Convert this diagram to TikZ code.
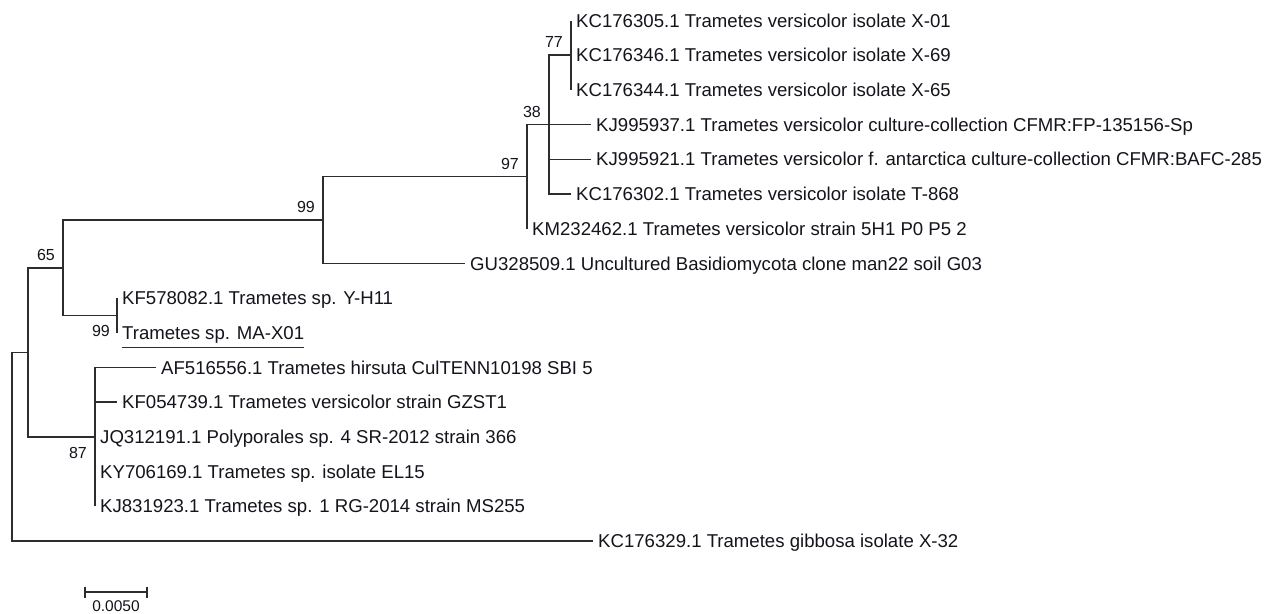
\documentclass[tikz,border=0pt]{standalone}
\usepackage{fontspec}
\setmainfont{Liberation Sans}
\definecolor{linec}{RGB}{45,45,45}
\definecolor{textc}{RGB}{20,20,28}
\begin{document}
\begin{tikzpicture}[x=1pt,y=-1pt,
  br/.style={draw=linec, line width=1.6pt},
  leaf/.style={anchor=west, inner xsep=5pt, inner ysep=0pt, text height=13.3pt, text depth=0pt, font=\fontsize{18.6}{22}\selectfont, text=textc},
  boot/.style={anchor=east, inner sep=0pt, text height=11.4pt, text depth=0pt, font=\fontsize{16}{19}\selectfont, text=textc},
]
\useasboundingbox[fill=white] (0,0) rectangle (1281,613);

% internal nodes
\coordinate (root) at (12,446.65);
\coordinate (nA) at (28,352.3);
\coordinate (n65) at (63,267.7);
\coordinate (n99a) at (323,220);
\coordinate (n97) at (527,176.65);
\coordinate (n38) at (549,124.6);
\coordinate (n77) at (571,55.2);
\coordinate (n99b) at (117,315.45);
\coordinate (n87) at (95,436.9);

% leaves
\node[leaf] (l1) at (571,20.5) {KC176305.1 Trametes versicolor isolate X-01};
\node[leaf] (l2) at (571,55.2) {KC176346.1 Trametes versicolor isolate X-69};
\node[leaf] (l3) at (571,89.9) {KC176344.1 Trametes versicolor isolate X-65};
\node[leaf] (l4) at (591,124.6) {KJ995937.1 Trametes versicolor culture-collection CFMR:FP-135156-Sp};
\node[leaf] (l5) at (591,159.3) {KJ995921.1 Trametes versicolor f. antarctica culture-collection CFMR:BAFC-285};
\node[leaf] (l6) at (571,194.0) {KC176302.1 Trametes versicolor isolate T-868};
\node[leaf] (l7) at (527,228.7) {KM232462.1 Trametes versicolor strain 5H1 P0 P5 2};
\node[leaf] (l8) at (465,263.4) {GU328509.1 Uncultured Basidiomycota clone man22 soil G03};
\node[leaf] (l9) at (117,298.1) {KF578082.1 Trametes sp. Y-H11};
\node[leaf] (l10) at (117,332.8) {Trametes sp. MA-X01};
\node[leaf] (l11) at (156,367.5) {AF516556.1 Trametes hirsuta CulTENN10198 SBI 5};
\node[leaf] (l12) at (117,402.2) {KF054739.1 Trametes versicolor strain GZST1};
\node[leaf] (l13) at (95,436.9) {JQ312191.1 Polyporales sp. 4 SR-2012 strain 366};
\node[leaf] (l14) at (95,471.6) {KY706169.1 Trametes sp. isolate EL15};
\node[leaf] (l15) at (95,506.3) {KJ831923.1 Trametes sp. 1 RG-2014 strain MS255};
\node[leaf] (l16) at (593,541.0) {KC176329.1 Trametes gibbosa isolate X-32};

% branches
\draw[br] (n77) |- (l1.west);
\draw[br] (n77) |- (l2.west);
\draw[br] (n77) |- (l3.west);
\draw[br] (n38) |- (n77);
\draw[br] (n38) |- (l4.west);
\draw[br] (n38) |- (l5.west);
\draw[br] (n38) |- (l6.west);
\draw[br] (n97) |- (n38);
\draw[br] (n97) |- (l7.west);
\draw[br] (n99a) |- (n97);
\draw[br] (n99a) |- (l8.west);
\draw[br] (n65) |- (n99a);
\draw[br] (n65) |- (n99b);
\draw[br] (n99b) |- (l9.west);
\draw[br] (n99b) |- (l10.west);
\draw[br] (nA) |- (n65);
\draw[br] (nA) |- (n87);
\draw[br] (n87) |- (l11.west);
\draw[br] (n87) |- (l12.west);
\draw[br] (n87) |- (l13.west);
\draw[br] (n87) |- (l14.west);
\draw[br] (n87) |- (l15.west);
\draw[br] (root) |- (nA);
\draw[br] (root) |- (l16.west);

% underline of the studied isolate
\draw[br, line width=1.4pt] ([xshift=5pt,yshift=-8pt]l10.south west) -- ([xshift=-5pt,yshift=-8pt]l10.south east);

% bootstrap values
\node[boot, xshift=-8pt, yshift=13pt] (b77) at (n77) {77};
\node[boot, xshift=-8pt, yshift=13pt] (b38) at (n38) {38};
\node[boot, xshift=-8pt, yshift=13pt] (b97) at (n97) {97};
\node[boot, xshift=-8pt, yshift=13pt] (b99a) at (n99a) {99};
\node[boot, xshift=-8pt, yshift=13pt] (b65) at (n65) {65};
\node[boot, xshift=-7pt, yshift=-15.5pt] (b99b) at (n99b) {99};
\node[boot, xshift=-8pt, yshift=-15.5pt] (b87) at (n87) {87};

% scale bar
\coordinate (s1) at (85,592);
\coordinate (s2) at (147,592);
\draw[br] (s1) -- (s2);
\draw[br] ([yshift=5.5pt]s1) -- ([yshift=-5.5pt]s1);
\draw[br] ([yshift=5.5pt]s2) -- ([yshift=-5.5pt]s2);
\node[anchor=base, inner sep=0pt, font=\fontsize{15.5}{18}\selectfont, text=textc] (sl) at (116,611) {0.0050};
\end{tikzpicture}
\end{document}
